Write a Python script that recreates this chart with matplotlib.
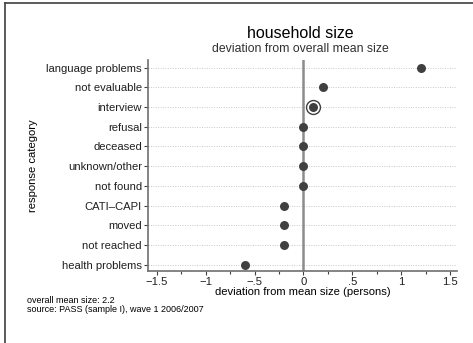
import numpy as np
import matplotlib.pyplot as plt
from matplotlib.lines import Line2D

plt.rcParams['font.family'] = ['Liberation Sans', 'DejaVu Sans']

# data
categories = ["language problems", "not evaluable", "interview", "refusal",
              "deceased", "unknown/other", "not found", "CATI\u2013CAPI",
              "moved", "not reached", "health problems"]
deviation = [1.2, 0.2, 0.1, 0.0, 0.0, 0.0, 0.0, -0.2, -0.2, -0.2, -0.6]
highlight = "interview"

xticks = [-1.5, -1, -0.5, 0, 0.5, 1, 1.5]
xticklabels = ["\u22121.5", "\u22121", "\u2212.5", "0", ".5", "1", "1.5"]

fig = plt.figure(figsize=(4.73, 3.43), dpi=100)
ax = fig.add_axes([0.313, 0.210, 0.653, 0.615])

n = len(categories)
ypos = np.arange(n)[::-1]

for y in ypos:
    ax.axhline(y, color="#c8c8c8", lw=0.7, ls=(0, (1, 1.5)), zorder=1)
ax.axvline(0, color="#8c8c8c", lw=1.8, zorder=2)

ax.scatter(deviation, ypos, s=42, color="#404040", zorder=4, linewidths=0)
i = categories.index(highlight)
ax.scatter([deviation[i]], [ypos[i]], s=100, facecolor="white",
           edgecolor="#404040", linewidths=1.0, zorder=3)

ax.set_xlim(-1.59, 1.57)
ax.set_ylim(-0.32, n - 1 + 0.38)
ax.set_yticks(ypos)
ax.set_yticklabels(categories, fontsize=8.1, color="#202020")
ax.set_xticks(xticks)
ax.set_xticklabels(xticklabels, fontsize=8.1, color="#202020")
ax.set_xticks(np.arange(-1.5, 1.51, 0.25), minor=True)
ax.tick_params(axis="both", length=3, width=0.8, color="#404040", pad=1.5)
ax.tick_params(axis="x", which="minor", length=2, width=0.8, color="#404040")

for s in ["top", "right"]:
    ax.spines[s].set_visible(False)
for s in ["left", "bottom"]:
    ax.spines[s].set_color("#707070")
    ax.spines[s].set_linewidth(1.2)

ax.set_xlabel("deviation from mean size (persons)", fontsize=8.1, labelpad=0)
ax.set_ylabel("response category", fontsize=8.1, labelpad=6)

fig.text(0.635, 0.903, "household size", fontsize=11.5, ha="center", va="center")
fig.text(0.635, 0.857, "deviation from overall mean size", fontsize=8.8,
         ha="center", va="center", color="#303030")

fig.text(0.057, 0.112, "overall mean size: 2.2\nsource: PASS (sample I), wave 1 2006/2007",
         fontsize=6.45, ha="left", va="center", linespacing=1.0)

# outer frame (left and top only)
fig.add_artist(Line2D([5 / 473, 5 / 473], [0, 1 - 3 / 343], color="#404040", lw=1.2))
fig.add_artist(Line2D([5 / 473, 1], [1 - 3 / 343, 1 - 3 / 343], color="#404040", lw=1.2))

fig.savefig("out.png", dpi=100)
